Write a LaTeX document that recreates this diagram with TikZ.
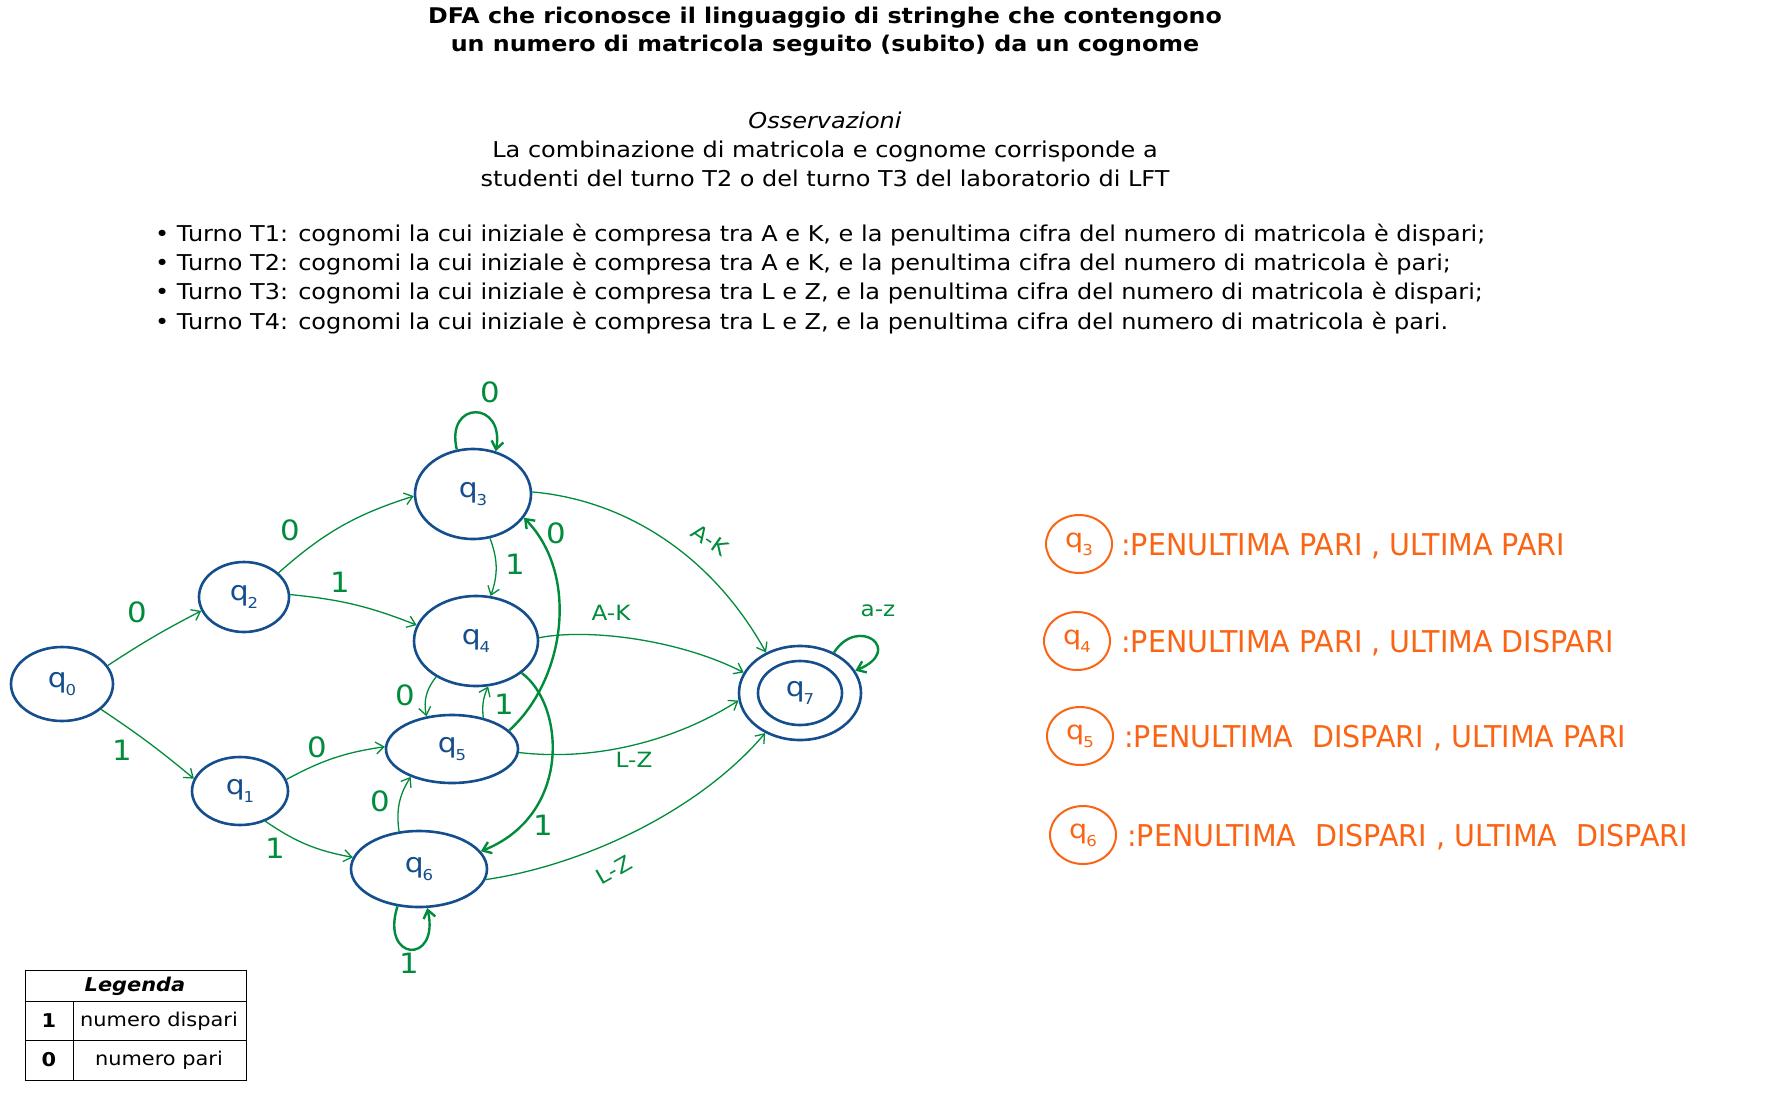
\documentclass[tikz,border=0pt]{standalone}
\usepackage{fontspec}
\setmainfont[FakeStretch=1.1]{DejaVu Sans}
\usetikzlibrary{shapes.geometric,arrows.meta}
\definecolor{sblue}{RGB}{20,78,140}
\definecolor{sgreen}{RGB}{0,140,60}
\definecolor{sorange}{RGB}{250,100,20}
\newcommand{\ql}[1]{{\fontsize{27}{27}\selectfont q}\kern-1pt\raisebox{-8pt}{\fontsize{15}{15}\selectfont #1}}
\newcommand{\qo}[1]{{\fontsize{26}{26}\selectfont q}\kern-1pt\raisebox{-8pt}{\fontsize{15}{15}\selectfont #1}}
\begin{document}
\begin{tikzpicture}[x=1pt,y=-1pt,
  state/.style={ellipse, draw=sblue, line width=2.6pt, inner sep=0pt, text=sblue},
  edge/.style={draw=sgreen, line width=1.3pt, -{Straight Barb[length=8pt,width=12pt]}},
  tedge/.style={edge, line width=2.4pt},
  lab/.style={text=sgreen, font=\fontsize{28}{28}\selectfont},
  slab/.style={text=sgreen, font=\fontsize{21}{21}\selectfont},
  body/.style={font=\fontsize{21.8}{29}\selectfont},
  ocirc/.style={ellipse, draw=sorange, line width=2pt, minimum width=66pt, minimum height=58pt, inner sep=0pt, text=sorange},
  otext/.style={anchor=west, text=sorange, font=\fontsize{30}{30}\selectfont, inner sep=0pt}
]
\useasboundingbox (0,0) rectangle (1775,1103);
\fill[white] (0,0) rectangle (1775,1103);

% header texts
\node[font=\fontsize{21.6}{28}\selectfont\bfseries, align=center] (title) at (825,32)
  {DFA che riconosce il linguaggio di stringhe che contengono\\un numero di matricola seguito (subito) da un cognome};
\node[font=\fontsize{21.8}{29}\selectfont\itshape] (oss) at (825,120) {Osservazioni};
\node[body, align=center] (comb) at (825,164)
  {La combinazione di matricola e cognome corrisponde a\\studenti del turno T2 o del turno T3 del laboratorio di LFT};
\node[body, anchor=west, inner sep=0pt] (t1) at (155,235) {• Turno T1: cognomi la cui iniziale è compresa tra A e K, e la penultima cifra del numero di matricola è dispari;};
\node[body, anchor=west, inner sep=0pt] (t2) at (155,264) {• Turno T2: cognomi la cui iniziale è compresa tra A e K, e la penultima cifra del numero di matricola è pari;};
\node[body, anchor=west, inner sep=0pt] (t3) at (155,293) {• Turno T3: cognomi la cui iniziale è compresa tra L e Z, e la penultima cifra del numero di matricola è dispari;};
\node[body, anchor=west, inner sep=0pt] (t4) at (155,323) {• Turno T4: cognomi la cui iniziale è compresa tra L e Z, e la penultima cifra del numero di matricola è pari.};

% states
\node[state, minimum width=102pt, minimum height=74pt] (q0) at (62,684) {\ql{0}};
\node[state, minimum width=90pt, minimum height=70pt] (q2) at (244,597) {\ql{2}};
\node[state, minimum width=96pt, minimum height=68pt] (q1) at (240,791) {\ql{1}};
\node[state, minimum width=116pt, minimum height=90pt] (q3) at (473,494) {\ql{3}};
\node[state, minimum width=124pt, minimum height=90pt] (q4) at (476,641) {\ql{4}};
\node[state, minimum width=132pt, minimum height=68pt] (q5) at (452,749) {\ql{5}};
\node[state, minimum width=136pt, minimum height=76pt] (q6) at (419,869) {\ql{6}};
\node[state, minimum width=122pt, minimum height=94pt] (q7) at (800,693) {};
\node[state, minimum width=84pt, minimum height=64pt] (q7i) at (800,693) {\ql{7}};

% edges
\draw[edge] (q0.22) to[bend left=3] (q2.198);
\draw[edge] (q0.-33) to[bend left=3] (q1.165);
\draw[edge] (q2.35) to[bend left=12] (q3.182);
\draw[edge] (q2.3) to[bend left=8] (q4.165);
\draw[edge] (q1.14) to[bend left=10] (q5.178);
\draw[edge] (q1.-50) to[bend right=12] (q6.170);
\draw[tedge] (q3.110) .. controls (445,400) and (505,400) .. (q3.62);
\draw[edge] (q3.-69) to[bend left=20] (q4.72);
\draw[tedge] (q5.18) .. controls (565,680) and (580,575) .. (q3.-25);
\draw[edge] (q4.222) to[bend right=25] (q5.128);
\draw[edge] (q5.45) to[bend left=15] (q4.-75);
\draw[tedge] (q4.-35) .. controls (565,705) and (572,815) .. (q6.16);
\draw[edge] (q6.118) to[bend left=20] (q5.214);
\draw[tedge] (q6.-120) .. controls (380,962) and (440,965) .. (q6.-78);
\draw[edge] (q3.2) .. controls (625,500) and (712,555) .. (q7.130);
\draw[edge] (q4.3) .. controls (590,628) and (680,640) .. (q7.160);
\draw[edge] (q5.-3) .. controls (600,762) and (680,738) .. (q7.187);
\draw[edge] (q6.-9) .. controls (585,865) and (700,810) .. (q7.229);
\draw[tedge] (q7.50) .. controls (858,615) and (905,650) .. (q7.22);

% edge labels
\node[lab] (l02) at (137,612) {0};
\node[lab] (l01) at (122,750) {1};
\node[lab] (l23) at (290,530) {0};
\node[lab] (l24) at (340,582) {1};
\node[lab] (l15) at (317,747) {0};
\node[lab] (l16) at (275,848) {1};
\node[lab] (l33) at (490,392) {0};
\node[lab] (l34) at (515,564) {1};
\node[lab] (l53) at (556,533) {0};
\node[lab] (l45) at (405,695) {0};
\node[lab] (l54) at (504,704) {1};
\node[lab] (l46) at (543,825) {1};
\node[lab] (l65) at (380,801) {0};
\node[lab] (l66) at (409,963) {1};
\node[slab, rotate=-35] (l37) at (710,540) {A-K};
\node[slab] (l47) at (611,613) {A-K};
\node[slab] (l57) at (634,760) {L-Z};
\node[slab, rotate=30] (l67) at (614,870) {L-Z};
\node[slab] (l77) at (878,611) {a-z};

% orange legend
\node[ocirc] (o3) at (1079,544) {\qo{3}};
\node[ocirc] (o4) at (1077,641) {\qo{4}};
\node[ocirc] (o5) at (1080,736) {\qo{5}};
\node[ocirc] (o6) at (1083,835) {\qo{6}};
\node[otext] (d3) at (1121,546) {\scalebox{0.865}[1]{:PENULTIMA PARI , ULTIMA PARI}};
\node[otext] (d4) at (1121,643) {\scalebox{0.865}[1]{:PENULTIMA PARI , ULTIMA DISPARI}};
\node[otext] (d5) at (1124,738) {\scalebox{0.865}[1]{:PENULTIMA\hspace{22pt}DISPARI , ULTIMA PARI}};
\node[otext] (d6) at (1127,837) {\scalebox{0.865}[1]{:PENULTIMA\hspace{22pt}DISPARI , ULTIMA\hspace{22pt}DISPARI}};

% table
\draw[line width=1pt] (25,970) rectangle (246,1080);
\draw[line width=1pt] (25,1001) -- (246,1001);
\draw[line width=1pt] (25,1040) -- (246,1040);
\draw[line width=1pt] (73,1001) -- (73,1080);
\node[font=\fontsize{19}{19}\selectfont\bfseries\itshape] (leg) at (135,986) {Legenda};
\node[font=\fontsize{19}{19}\selectfont\bfseries] (k1) at (49,1021) {1};
\node[font=\fontsize{19}{19}\selectfont] (v1) at (159,1021) {numero dispari};
\node[font=\fontsize{19}{19}\selectfont\bfseries] (k0) at (49,1060) {0};
\node[font=\fontsize{19}{19}\selectfont] (v0) at (159,1060) {numero pari};
\end{tikzpicture}
\end{document}
